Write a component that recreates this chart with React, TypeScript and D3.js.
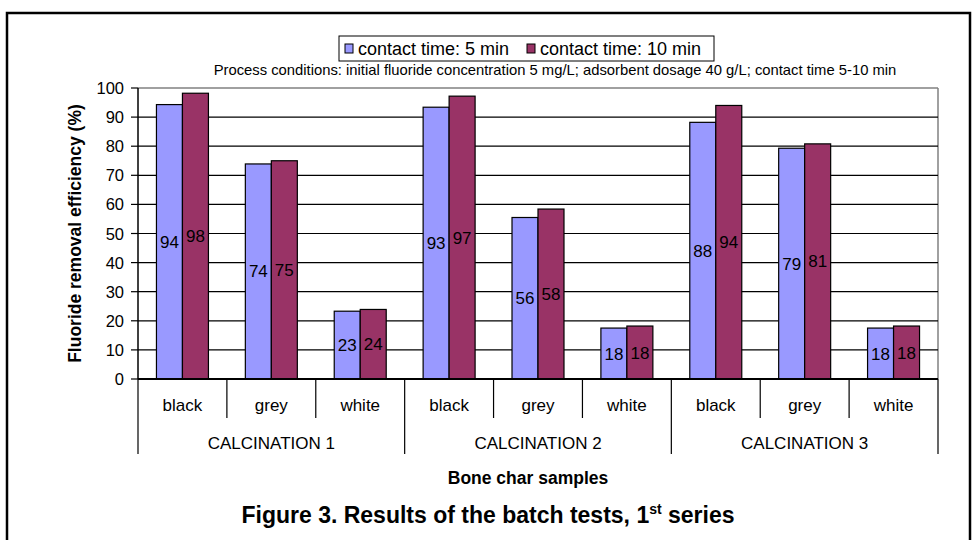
import React from 'react';
import * as d3 from 'd3';

const subCategories = ['black', 'grey', 'white'];
const groups = ['CALCINATION 1', 'CALCINATION 2', 'CALCINATION 3'];
const seriesNames = ['contact time: 5 min', 'contact time: 10 min'];
const series5min = [94.3, 73.9, 23.3, 93.4, 55.5, 17.5, 88.2, 79.3, 17.5];
const series10min = [98.2, 75.0, 23.9, 97.2, 58.4, 18.2, 94.0, 80.8, 18.2];
const yTicks = [0, 10, 20, 30, 40, 50, 60, 70, 80, 90, 100];
const colors = ['#9999FF', '#993366'];

const FONT = 'Liberation Sans, Arial, Helvetica, sans-serif';

export default function App() {
  const W = 974;
  const H = 540;
  const left = 138;
  const right = 938;
  const top = 88;
  const bottom = 379;

  const slots = d3.range(groups.length * subCategories.length);
  const x = d3.scaleBand<number>().domain(slots).range([left, right]).padding(0);
  const inner = d3
    .scaleBand<number>()
    .domain([0, 1])
    .range([0, x.bandwidth()])
    .paddingInner(0)
    .paddingOuter(0.71);
  const y = d3.scaleLinear().domain([0, 100]).range([bottom, top]);
  const seriesData = [series5min, series10min];

  const groupWidth = x.bandwidth() * subCategories.length;

  return (
    <svg
      width={W}
      height={H}
      style={{ position: 'absolute', left: 0, top: 0, background: '#fff' }}
      fontFamily={FONT}
    >
      <rect x={0} y={0} width={W} height={H} fill="#fff" />
      {/* outer frame */}
      <rect x={7} y={13} width={963} height={560} fill="none" stroke="#000" strokeWidth={2.5} />

      {/* legend */}
      <g>
        <rect x={339} y={36} width={375} height={25} fill="#fff" stroke="#000" strokeWidth={1} />
        {seriesNames.map((s, i) => {
          const lx = i === 0 ? 345 : 527;
          return (
            <g key={s}>
              <rect x={lx} y={44} width={8} height={9} fill={colors[i]} stroke="#000" strokeWidth={1} />
              <text x={lx + 13} y={55} fontSize={18} fill="#000">
                {s}
              </text>
            </g>
          );
        })}
      </g>

      {/* process conditions */}
      <text x={555} y={74.5} fontSize={14.8} textAnchor="middle" fill="#000">
        Process conditions: initial fluoride concentration 5 mg/L; adsorbent dosage 40 g/L; contact time 5-10 min
      </text>

      {/* plot border (grey) */}
      <line x1={left} y1={top} x2={right} y2={top} stroke="#808080" strokeWidth={1.5} />
      <line x1={right} y1={top} x2={right} y2={bottom} stroke="#808080" strokeWidth={1.5} />

      {/* gridlines */}
      {yTicks
        .filter((t) => t !== 0 && t !== 100)
        .map((t) => (
          <line key={'g' + t} x1={left} x2={right} y1={y(t)} y2={y(t)} stroke="#000" strokeWidth={1.2} />
        ))}

      {/* bars */}
      {slots.map((s) =>
        seriesData.map((arr, si) => {
          const v = arr[s];
          const bx = (x(s) as number) + (inner(si) as number);
          return (
            <rect
              key={`b${s}-${si}`}
              x={bx}
              y={y(v)}
              width={inner.bandwidth()}
              height={y(0) - y(v)}
              fill={colors[si]}
              stroke="#000"
              strokeWidth={1.2}
            />
          );
        })
      )}

      {/* data labels */}
      {slots.map((s) =>
        seriesData.map((arr, si) => {
          const v = arr[s];
          const bx = (x(s) as number) + (inner(si) as number) + inner.bandwidth() / 2;
          return (
            <text
              key={`l${s}-${si}`}
              x={bx}
              y={(y(v) + y(0)) / 2 + 6}
              fontSize={17}
              textAnchor="middle"
              fill="#000"
            >
              {Math.round(v)}
            </text>
          );
        })
      )}

      {/* y axis */}
      <line x1={left} y1={top} x2={left} y2={bottom} stroke="#000" strokeWidth={1.5} />
      {yTicks.map((t) => (
        <g key={'t' + t}>
          <line x1={left - 7} x2={left} y1={y(t)} y2={y(t)} stroke="#000" strokeWidth={1.2} />
          <text x={left - 14} y={y(t) + 6} fontSize={16.5} textAnchor="end" fill="#000">
            {t}
          </text>
        </g>
      ))}

      {/* x axis */}
      <line x1={left} y1={bottom} x2={right} y2={bottom} stroke="#000" strokeWidth={2} />
      {d3.range(slots.length + 1).map((k) => {
        const xx = left + k * x.bandwidth();
        const long = k % subCategories.length === 0;
        return (
          <line key={'sep' + k} x1={xx} x2={xx} y1={bottom} y2={long ? 454 : 418} stroke="#000" strokeWidth={1.2} />
        );
      })}
      {slots.map((s) => (
        <text
          key={'c' + s}
          x={(x(s) as number) + x.bandwidth() / 2}
          y={411}
          fontSize={17}
          textAnchor="middle"
          fill="#000"
        >
          {subCategories[s % subCategories.length]}
        </text>
      ))}
      {groups.map((g, gi) => (
        <text
          key={g}
          x={left + gi * groupWidth + groupWidth / 2}
          y={449}
          fontSize={17}
          textAnchor="middle"
          fill="#000"
        >
          {g}
        </text>
      ))}

      {/* axis titles */}
      <text x={528} y={484} fontSize={17.5} fontWeight="bold" textAnchor="middle" fill="#000">
        Bone char samples
      </text>
      <text
        transform={`translate(${81},${(top + bottom) / 2}) rotate(-90)`}
        fontSize={17.5}
        fontWeight="bold"
        textAnchor="middle"
        fill="#000"
      >
        Fluoride removal efficiency (%)
      </text>

      {/* figure title */}
      <text x={488} y={523} fontSize={23} fontWeight="bold" textAnchor="middle" fill="#000">
        Figure 3. Results of the batch tests, 1
        <tspan fontSize={14} dy={-9}>st</tspan>
        <tspan dy={9}> series</tspan>
      </text>
    </svg>
  );
}
